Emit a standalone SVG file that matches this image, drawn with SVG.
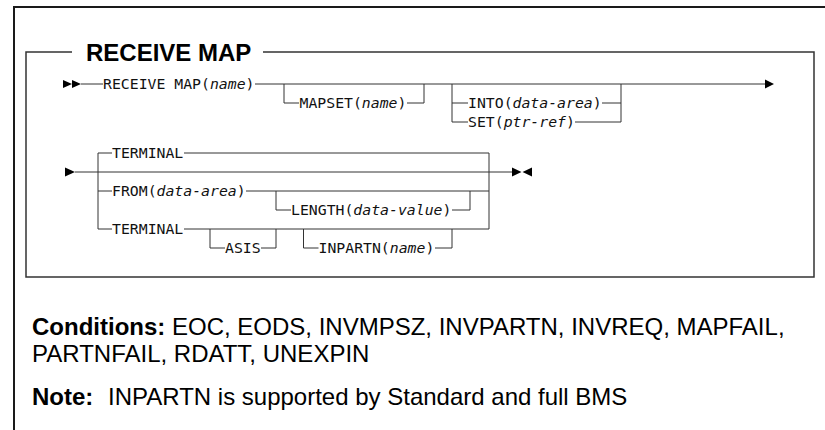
<svg xmlns="http://www.w3.org/2000/svg" width="825" height="430" viewBox="0 0 825 430">
<style>
  .frame { fill: none; stroke: #1a1a1a; stroke-width: 2; }
  .box { fill: none; stroke: #333; stroke-width: 1.5; }
  .ln { fill: none; stroke: #333; stroke-width: 1; }
  .ah { fill: #000; stroke: none; }
  .mono { font-family: "DejaVu Sans Mono", "Liberation Mono", monospace; font-size: 14.8px; fill: #111; }
  .it { font-style: italic; }
  .title { font-family: "Liberation Sans", Arial, sans-serif; font-size: 24px; font-weight: bold; fill: #000; }
  .body { font-family: "Liberation Sans", Arial, sans-serif; font-size: 24px; fill: #000; }
  .b { font-weight: bold; }
</style>
<rect width="825" height="430" fill="#fff"/>
<path class="frame" d="M14,430 V7 H826"/>
<path class="box" d="M72,52 H26 V277 H814 V52 H263"/>
<text class="title" x="86" y="61">RECEIVE MAP</text>

<g id="connectors">
  <!-- row 1 -->
  <polygon class="ah" points="63,80 72,84 63,88"/>
  <polygon class="ah" points="72,80 81,84 72,88"/>
  <path class="ln" d="M81,84 H103"/>
  <path class="ln" d="M255,84 H766"/>
  <polygon class="ah" points="765,79.5 774,84 765,88.5"/>
  <path class="ln" d="M284,84 V103 H299"/>
  <path class="ln" d="M407,103 H424 V84"/>
  <path class="ln" d="M452,84 V122 H468 M452,103 H468"/>
  <path class="ln" d="M602,103 H621 M575,122 H621 V84"/>
  <!-- row 2 -->
  <polygon class="ah" points="65,167.5 75,172 65,176.5"/>
  <path class="ln" d="M75,172 H512"/>
  <polygon class="ah" points="512,167.5 521.5,172 512,176.5"/>
  <polygon class="ah" points="532,167.5 522.5,172 532,176.5"/>
  <path class="ln" d="M112,153 H98 V229 H112 M98,191 H112"/>
  <path class="ln" d="M184,153 H489 V229 M246,191 H489 M184,229 H489"/>
  <path class="ln" d="M276,191 V210 H291"/>
  <path class="ln" d="M452,210 H470 V191"/>
  <path class="ln" d="M210,229 V248 H225"/>
  <path class="ln" d="M261,248 H276 V229"/>
  <path class="ln" d="M303.5,229 V248 H318.5"/>
  <path class="ln" d="M435,248 H452 V229"/>
</g>

<g id="receive-map"><text class="mono" x="103" y="89.4">RECEIVE MAP(<tspan class="it">name</tspan>)</text></g>
<g id="mapset"><text class="mono" x="299.5" y="108.4">MAPSET(<tspan class="it">name</tspan>)</text></g>
<g id="into"><text class="mono" x="468" y="108.4">INTO(<tspan class="it">data-area</tspan>)</text></g>
<g id="set"><text class="mono" x="468" y="127.4">SET(<tspan class="it">ptr-ref</tspan>)</text></g>
<g id="terminal-default"><text class="mono" x="112" y="158.4">TERMINAL</text></g>
<g id="from"><text class="mono" x="112" y="196.4">FROM(<tspan class="it">data-area</tspan>)</text></g>
<g id="length"><text class="mono" x="291" y="215.4">LENGTH(<tspan class="it">data-value</tspan>)</text></g>
<g id="terminal"><text class="mono" x="112" y="234.4">TERMINAL</text></g>
<g id="asis"><text class="mono" x="225" y="253.4">ASIS</text></g>
<g id="inpartn"><text class="mono" x="318.5" y="253.4">INPARTN(<tspan class="it">name</tspan>)</text></g>

<text class="body" x="32" y="335"><tspan class="b">Conditions:</tspan> EOC, EODS, INVMPSZ, INVPARTN, INVREQ, MAPFAIL,</text>
<text class="body" x="32" y="362">PARTNFAIL, RDATT, UNEXPIN</text>
<text class="body" x="32" y="405"><tspan class="b">Note:</tspan><tspan x="108">INPARTN is supported by Standard and full BMS</tspan></text>
</svg>
